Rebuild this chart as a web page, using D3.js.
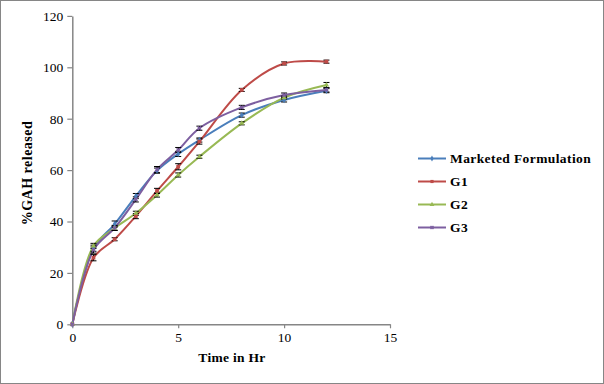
<!DOCTYPE html>
<html><head><meta charset="utf-8">
<script src="https://cdn.jsdelivr.net/npm/d3@7"></script>
<style>body{margin:0;background:#fff}svg{display:block}</style>
</head><body>
<script>
const times = [0, 1, 2, 3, 4, 5, 6, 8, 10, 12];
const seriesNames = ["Marketed Formulation", "G1", "G2", "G3"];
const marketed = [0, 29.6, 39.0, 49.9, 59.8, 66.3, 71.7, 81.4, 87.3, 90.9];
const g1 = [0, 25.9, 33.1, 42.1, 51.9, 61.3, 71.1, 91.2, 101.5, 102.2];
const g2 = [0, 30.5, 37.4, 43.2, 50.3, 58.1, 65.2, 78.2, 88.2, 93.1];
const g3 = [0, 28.9, 37.5, 48.6, 60.2, 67.8, 76.3, 84.4, 89.2, 91.2];
const errMarketed = [0, 1.2, 1.2, 1.0, 1.0, 1.0, 0.8, 0.8, 0.8, 0.8];
const errG1 = [0, 1.2, 0.6, 1.0, 1.0, 1.2, 1.0, 0.6, 0.6, 0.6];
const errG2 = [0, 1.0, 0.8, 0.8, 0.8, 0.8, 0.6, 0.6, 0.6, 1.0];
const errG3 = [0, 1.2, 1.0, 1.0, 1.2, 1.0, 0.8, 0.8, 0.8, 0.8];
const xTicks = [0, 5, 10, 15];
const yTicks = [0, 20, 40, 60, 80, 100, 120];
const colors = ["#4a7ebb", "#be4b48", "#98b954", "#7d5fa0"];

const values = [marketed, g1, g2, g3];
const errors = [errMarketed, errG1, errG2, errG3];
const data = seriesNames.map((n, i) => ({
  name: n, color: colors[i],
  pts: times.map((t, j) => ({t, v: values[i][j], e: errors[i][j]}))
}));

const W = 604, H = 384;
const svg = d3.select("body").append("svg").attr("width", W).attr("height", H);
svg.append("rect").attr("x", 0.5).attr("y", 0.5).attr("width", W - 1).attr("height", H - 1)
  .attr("fill", "#fff").attr("stroke", "#868686").attr("stroke-width", 1);

const x = d3.scaleLinear().domain([0, 15]).range([72.3, 390]);
const y = d3.scaleLinear().domain([0, 120]).range([324.3, 15.9]);
const axisColor = "#868686";
const font = "'Liberation Serif','Times New Roman',serif";

const xAxis = svg.append("g").attr("transform", `translate(0,${y(0)})`)
  .call(d3.axisBottom(x).tickValues(xTicks).tickSize(4).tickSizeOuter(0));
const yAxis = svg.append("g").attr("transform", `translate(${x(0)},0)`)
  .call(d3.axisLeft(y).tickValues(yTicks).tickSize(5).tickSizeOuter(0));
[xAxis, yAxis].forEach(a => {
  a.select(".domain").attr("stroke", axisColor).attr("stroke-width", 1.5);
  a.selectAll(".tick line").attr("stroke", axisColor).attr("stroke-width", 1.2);
  a.selectAll("text").attr("font-family", font).attr("font-size", 13.5).attr("fill", "#000");
});
xAxis.selectAll("text").attr("dy", "0.9em").attr("y", 6);
yAxis.selectAll("text").attr("x", -9);

const line = d3.line().x(d => x(d.t)).y(d => y(d.v)).curve(d3.curveCatmullRom.alpha(0.5));
const g = svg.append("g");
data.forEach((s, i) => {
  g.append("path").attr("d", line(s.pts)).attr("fill", "none")
    .attr("stroke", s.color).attr("stroke-width", 2);
});
// error bars
data.forEach(s => {
  s.pts.forEach(p => {
    if (!p.e) return;
    const cx = x(p.t);
    g.append("line").attr("x1", cx).attr("x2", cx).attr("y1", y(p.v - p.e)).attr("y2", y(p.v + p.e))
      .attr("stroke", "#000").attr("stroke-width", 1);
    [p.v - p.e, p.v + p.e].forEach(v => g.append("line")
      .attr("x1", cx - 3).attr("x2", cx + 3).attr("y1", y(v)).attr("y2", y(v))
      .attr("stroke", "#000").attr("stroke-width", 1));
  });
});
// markers
const sym = [d3.symbolDiamond, d3.symbolSquare, d3.symbolTriangle, d3.symbolCross];
data.forEach((s, i) => {
  g.selectAll(null).data(s.pts).enter().append("path")
    .attr("transform", d => `translate(${x(d.t)},${y(d.v)})${i === 3 ? " rotate(45)" : ""}`)
    .attr("d", d3.symbol().type(sym[i]).size(i === 1 ? 14 : 12))
    .attr("fill", s.color);
});

// axis titles
svg.append("text").attr("x", 232).attr("y", 362).attr("text-anchor", "middle")
  .attr("font-family", font).attr("font-weight", "bold").attr("font-size", 13.5)
  .attr("letter-spacing", 0.3).text("Time in Hr");
svg.append("text").attr("transform", "translate(32,173) rotate(-90)").attr("text-anchor", "middle")
  .attr("font-family", font).attr("font-weight", "bold").attr("font-size", 14)
  .attr("letter-spacing", 0.5).text("%GAH released");

// legend
const leg = svg.append("g");
data.forEach((s, i) => {
  const ly = 158.5 + i * 23;
  leg.append("line").attr("x1", 418).attr("x2", 446).attr("y1", ly).attr("y2", ly)
    .attr("stroke", s.color).attr("stroke-width", 2);
  leg.append("path").attr("transform", `translate(432,${ly})${i === 3 ? " rotate(45)" : ""}`)
    .attr("d", d3.symbol().type(sym[i]).size(10)).attr("fill", s.color);
  leg.append("text").attr("x", 450).attr("y", ly + 4.5)
    .attr("font-family", font).attr("font-weight", "bold").attr("font-size", 13.5)
    .attr("letter-spacing", 0.4).text(s.name);
});
</script>
</body></html>
